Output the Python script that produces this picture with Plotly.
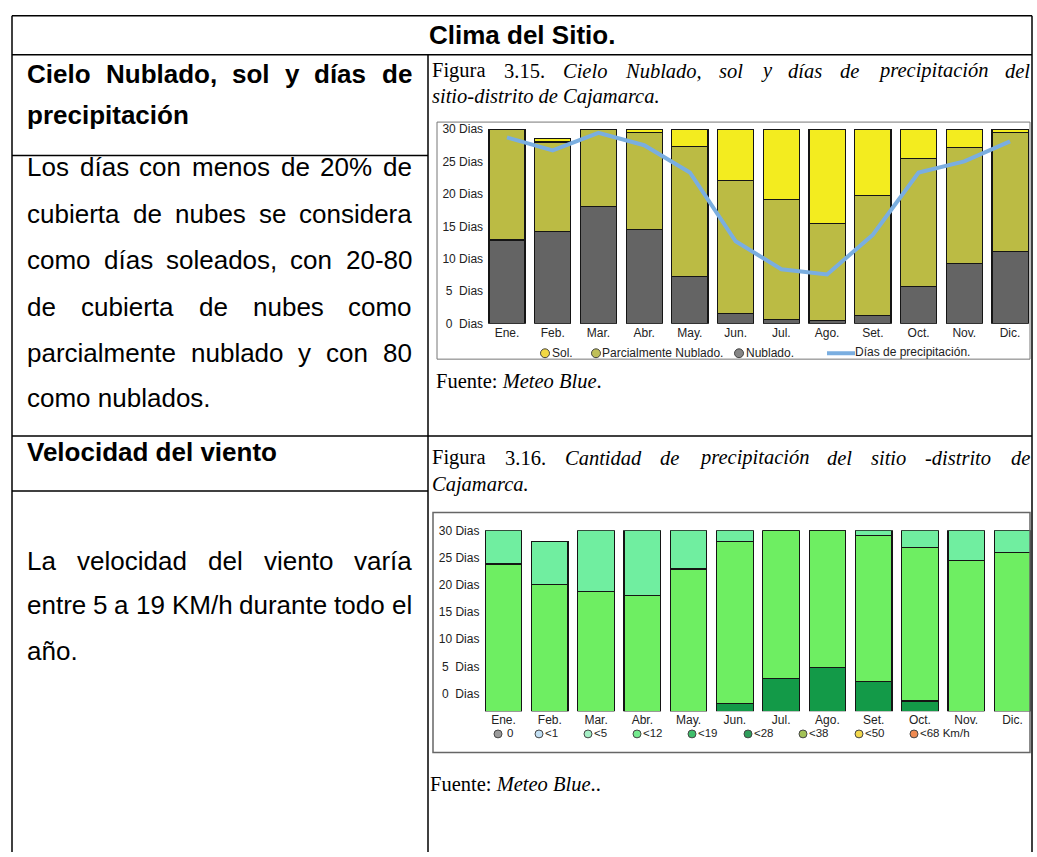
import plotly.graph_objects as go

# ---------------- DATA ----------------
meses = ["Ene.", "Feb.", "Mar.", "Abr.", "May.", "Jun.", "Jul.", "Ago.", "Set.", "Oct.", "Nov.", "Dic."]

# Figura 3.15 (dias)
nublado = [12.9, 14.2, 18.0, 14.5, 7.3, 1.6, 0.7, 0.5, 1.3, 5.7, 9.3, 11.1]
parcial = [17.1, 13.8, 12.0, 14.9, 20.0, 20.5, 18.4, 14.9, 18.5, 19.8, 17.8, 18.3]
sol = [0.0, 0.5, 0.0, 0.6, 2.7, 7.9, 10.9, 14.6, 10.2, 4.5, 2.9, 0.6]
dias_precip = [28.7, 26.7, 29.4, 27.5, 23.3, 12.7, 8.4, 7.6, 13.7, 23.3, 25.0, 28.1]

# Figura 3.16 (dias por rango de viento)
viento_19 = [0.0, 0.0, 0.0, 0.0, 0.0, 1.3, 5.4, 7.3, 4.9, 1.7, 0.0, 0.0]
viento_12 = [24.4, 21.0, 19.8, 19.2, 23.6, 26.8, 24.6, 22.7, 24.2, 25.5, 25.0, 26.3]
viento_5 = [5.6, 7.1, 10.2, 10.8, 6.4, 1.9, 0.0, 0.0, 0.9, 2.8, 5.0, 3.7]

tick_vals = [0, 5, 10, 15, 20, 25, 30]
tick_text = ["0\u00a0 Dias", "5\u00a0 Dias", "10 Dias", "15 Dias", "20 Dias", "25 Dias", "30 Dias"]

leg1 = ["Sol.", "Parcialmente Nublado.", "Nublado.", "Días de precipitación."]
leg2 = ["0", "<1", "<5", "<12", "<19", "<28", "<38", "<50", "<68 Km/h"]
leg2_colors = ["#9a9a9a", "#c3e0f4", "#a6efc6", "#74ea8e", "#3fbe6a", "#2f9d5b", "#a3c257", "#f3d84c", "#ef8a52"]

# ---------------- LAYOUT HELPERS ----------------
W, H = 1037, 857
def X(px): return px / W
def Y(py): return 1 - py / H

SANS = "Liberation Sans, Arial, sans-serif"
SERIF = "Liberation Serif, Times New Roman, serif"

AR = {' ': 278, '!': 278, '%': 889, ',': 278, '-': 333, '.': 278, '/': 278, ':': 278, '<': 584}
for d in "0123456789": AR[d] = 556
AR.update(dict(A=667, B=667, C=722, D=722, E=667, F=611, G=778, H=722, I=278, J=500, K=667, L=556, M=833,
               N=722, O=778, P=667, Q=778, R=722, S=667, T=611, U=722, V=667, W=944, X=667, Y=667, Z=611,
               a=556, b=556, c=500, d=556, e=556, f=278, g=556, h=556, i=222, j=222, k=500, l=222, m=833,
               n=556, o=556, p=556, q=556, r=333, s=500, t=278, u=556, v=500, w=722, x=500, y=500, z=500))
AR.update({'á': 556, 'é': 556, 'í': 278, 'ó': 556, 'ú': 556, 'ñ': 556})
ARB = dict(AR)
ARB.update(dict(b=611, c=556, d=611, f=333, g=611, h=611, i=278, j=278, k=556, l=278, m=889, n=611, o=611,
                p=611, q=611, r=389, s=556, t=333, u=611, v=556, w=778, x=556, y=556))
ARB.update({'í': 278, 'ó': 611})
TR = {' ': 250, '.': 250, ',': 250, ':': 278, '-': 333}
for d in "0123456789": TR[d] = 500
TR.update(dict(F=556, C=667, a=444, b=500, c=444, d=500, e=444, f=333, g=500, h=500, i=278, j=278, k=500,
               l=278, m=778, n=500, o=500, p=500, q=500, r=333, s=389, t=278, u=500, v=500, w=722, x=500,
               y=500, z=444))
TI = {' ': 250, '.': 250, ',': 250, '-': 333}
TI.update(dict(B=611, C=667, M=833, N=667, a=500, b=500, c=444, d=500, e=444, f=278, g=500, h=500, i=278,
               j=278, k=444, l=278, m=722, n=500, o=500, p=500, q=500, r=389, s=389, t=278, u=500, v=444,
               w=667, x=444, y=444, z=389))
TI.update({'í': 278, 'ó': 500, 'á': 500})

STY = {"r": (AR, SANS, "{}"), "b": (ARB, SANS, "<b>{}</b>"),
       "tr": (TR, SERIF, "{}"), "ti": (TI, SERIF, "<i>{}</i>")}

annotations = []
shapes = []

def tw(s, table, size):
    return sum(table.get(ch, 556) for ch in s) / 1000.0 * size

def add_text(px, py, text, size, family=SANS, color="#000", xanchor="left"):
    annotations.append(dict(x=X(px), y=Y(py), xref="paper", yref="paper", text=text, showarrow=False,
                            xanchor=xanchor, yanchor="middle", borderpad=0, borderwidth=0,
                            font=dict(family=family, size=size, color=color)))

def justify(words, x0, x1, py, size):
    # words: list of (text, style)
    ws = [tw(w, STY[s][0], size) for w, s in words]
    gap = (x1 - x0 - sum(ws)) / (len(words) - 1)
    x = x0
    for (w, s), wd in zip(words, ws):
        add_text(x, py, STY[s][2].format(w), size, STY[s][1])
        x += wd + gap

def line(x0, y0, x1, y1, w=1.5, color="#000"):
    shapes.append(dict(type="line", xref="paper", yref="paper", x0=X(x0), y0=Y(y0), x1=X(x1), y1=Y(y1),
                       line=dict(color=color, width=w)))

def rect(x0, y0, x1, y1, w=1, color="#666"):
    shapes.append(dict(type="rect", xref="paper", yref="paper", x0=X(x0), y0=Y(y0), x1=X(x1), y1=Y(y1),
                       line=dict(color=color, width=w), fillcolor="rgba(0,0,0,0)"))

def dot(cx, cy, r, fill, edge="#444"):
    shapes.append(dict(type="circle", xref="paper", yref="paper", x0=X(cx - r), y0=Y(cy + r),
                       x1=X(cx + r), y1=Y(cy - r), line=dict(color=edge, width=1), fillcolor=fill))

# ---------------- TABLE ----------------
L, R, C = 12, 1032, 428
line(L, 9, R, 9)
line(L, 48.5, R, 48.5)
line(L, 9, L, H + 2)
line(R, 9, R, H + 2)
line(C, 48.5, C, H + 2)
line(L, 151, C, 151)
line(L, 436, R, 436)
line(L, 492, C, 492)

add_text((L + R) / 2, 28, "<b>Clima del Sitio.</b>", 26, SANS, xanchor="center")

FS = 26
TX0, TX1 = 27, 412
def sw(text, s):
    return [(w, s) for w in text.split(" ")]
justify(sw("Cielo Nublado, sol y días de", "b"), TX0, TX1, 68, FS)
add_text(TX0, 110, "<b>precipitación</b>", FS)
body1 = ["Los días con menos de 20% de", "cubierta de nubes se considera", "como días soleados, con 20-80",
         "de cubierta de nubes como", "parcialmente nublado y con 80"]
ys1 = [163, 210, 257, 305, 352]
for t, yy in zip(body1, ys1):
    justify(sw(t, "r"), TX0, TX1, yy, FS)
add_text(TX0, 398, "como nublados.", FS)

add_text(TX0, 452, "<b>Velocidad del viento</b>", FS)
justify(sw("La velocidad del viento varía", "r"), TX0, TX1, 563, FS)
justify(sw("entre 5 a 19 KM/h durante todo el", "r"), TX0, TX1, 608, FS)
add_text(TX0, 655, "año.", FS)

# captions (Times)
CS = 20.5
justify(sw("Figura 3.15.", "tr") + sw("Cielo Nublado, sol y días de precipitación del", "ti"), 432, 1030, 65, CS)
add_text(432, 91, "<i>sitio-distrito de Cajamarca.</i>", CS, SERIF)
add_text(436, 380, "Fuente: <i>Meteo Blue</i>.", CS, SERIF)
justify(sw("Figura 3.16.", "tr") + sw("Cantidad de precipitación del sitio -distrito de", "ti"), 432, 1030, 458, CS)
add_text(432, 485, "<i>Cajamarca.</i>", CS, SERIF)
add_text(430, 790, "Fuente: <i>Meteo Blue</i>..", CS, SERIF)

# chart frames
rect(437, 117, 1030, 358, w=1, color="#777")
rect(433, 514, 1030, 758, w=1.5, color="#666")

# chart 1 legend
LF = 12
dot(545, 352, 4.5, "#f2d843")
add_text(552, 352, "Sol.", LF, SANS, "#222")
dot(596, 352, 4.5, "#bfbf58")
add_text(602, 352, "Parcialmente Nublado.", LF, SANS, "#222")
dot(739, 352, 4.5, "#858585")
add_text(746, 352, "Nublado.", LF, SANS, "#222")
line(827, 352, 855, 352, w=4, color="#7aaee0")
add_text(855, 351, "Días de precipitación.", LF, SANS, "#222")

# chart 2 legend
mx = [498, 539, 588, 637, 692, 748, 803, 859, 914]
for cx, lab, col in zip(mx, leg2, leg2_colors):
    dot(cx, 739, 4, col)
    add_text(cx + (9 if lab == "0" else 6), 738, lab, 11.5, SANS, "#222")

# ---------------- FIGURE ----------------
fig = go.Figure()
bar_line = dict(color="#151515", width=1.2)
fig.add_trace(go.Bar(x=meses, y=nublado, name=leg1[2], marker=dict(color="#646464", line=bar_line),
                     xaxis="x", yaxis="y"))
fig.add_trace(go.Bar(x=meses, y=parcial, name=leg1[1], marker=dict(color="#bbbb44", line=bar_line),
                     xaxis="x", yaxis="y"))
fig.add_trace(go.Bar(x=meses, y=sol, name=leg1[0], marker=dict(color="#f3ec1f", line=bar_line),
                     xaxis="x", yaxis="y"))
fig.add_trace(go.Scatter(x=meses, y=dias_precip, name=leg1[3], mode="lines",
                         line=dict(color="#7aaee0", width=4), xaxis="x", yaxis="y"))

fig.add_trace(go.Bar(x=meses, y=viento_19, name="<19", marker=dict(color="#139a48", line=bar_line),
                     xaxis="x2", yaxis="y2"))
fig.add_trace(go.Bar(x=meses, y=viento_12, name="<12", marker=dict(color="#6eee62", line=bar_line),
                     xaxis="x2", yaxis="y2"))
fig.add_trace(go.Bar(x=meses, y=viento_5, name="<5", marker=dict(color="#70eea0", line=bar_line),
                     xaxis="x2", yaxis="y2"))
# invisible trace so the label axis of figure 3.16 is drawn
fig.add_trace(go.Scatter(x=[meses[0]], y=[0], mode="markers", marker=dict(opacity=0), showlegend=False,
                         hoverinfo="skip", xaxis="x2", yaxis="y3"))

tickfont = dict(family=SANS, size=12, color="#222")
common_x = dict(type="category", showgrid=False, zeroline=False, showline=False, ticks="",
                tickfont=tickfont, range=[-0.5, 11.5], fixedrange=True)
fig.update_layout(
    width=W, height=H, margin=dict(l=0, r=0, t=0, b=0),
    paper_bgcolor="white", plot_bgcolor="rgba(0,0,0,0)",
    barmode="stack", showlegend=False,
    xaxis=dict(common_x, domain=[X(484.1), X(1032.9)], anchor="y"),
    yaxis=dict(domain=[Y(322), Y(124)], range=[0, 30], tickvals=tick_vals, ticktext=tick_text,
               showgrid=False, zeroline=False, showline=False, ticks="", tickfont=tickfont,
               anchor="x", ticklabelstandoff=0),
    xaxis2=dict(common_x, domain=[X(480.4), X(1035.6)], anchor="y2"),
    yaxis2=dict(domain=[Y(716), Y(532)], range=[0, 30], showgrid=False, zeroline=False, showline=False,
                showticklabels=False, ticks="", anchor="x2"),
    yaxis3=dict(overlaying="y2", range=[-3.25, 30], tickvals=tick_vals, ticktext=tick_text,
                showgrid=False, zeroline=False, showline=False, ticks="", tickfont=tickfont,
                anchor="x2", side="left", ticklabelstandoff=0),
    bargap=0.21,
    annotations=annotations, shapes=shapes,
)

fig.write_html("out.html", config={"displayModeBar": False},
               post_script="document.body.style.margin='0';document.body.style.overflow='hidden';")
